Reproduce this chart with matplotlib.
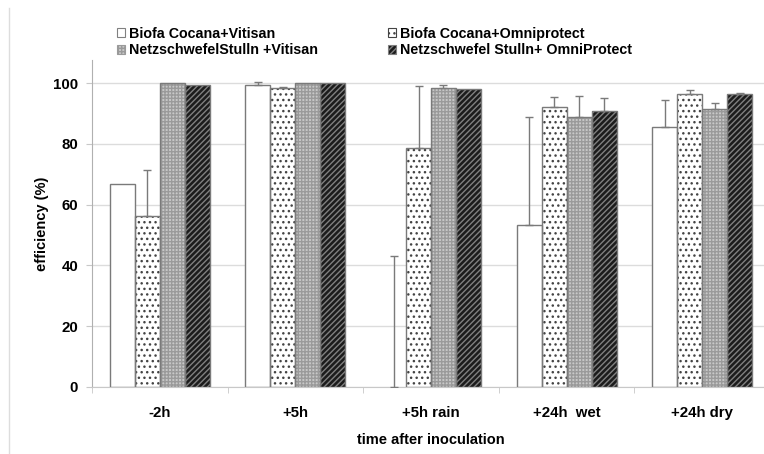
import matplotlib
matplotlib.use("Agg")
import matplotlib.pyplot as plt
from matplotlib.patches import Patch
from matplotlib.lines import Line2D
import numpy as np

categories = ["-2h", "+5h", "+5h rain", "+24h  wet", "+24h dry"]
series_names = ["Biofa Cocana+Vitisan", "Biofa Cocana+Omniprotect",
                "NetzschwefelStulln +Vitisan", "Netzschwefel Stulln+ OmniProtect"]
biofa_vitisan = [66.7, 99.5, 0.0, 53.4, 85.6]
biofa_vitisan_err = [0.0, 0.7, 43.2, 35.5, 8.8]
biofa_omni = [56.3, 98.4, 78.8, 92.2, 96.4]
biofa_omni_err = [15.1, 0.3, 20.2, 3.3, 1.3]
netz_vitisan = [100.0, 100.0, 98.3, 88.9, 91.4]
netz_vitisan_err = [0.0, 0.0, 1.0, 6.8, 2.2]
netz_omni = [99.5, 100.0, 98.0, 90.9, 96.4]
netz_omni_err = [0.0, 0.0, 0.0, 4.1, 0.2]

plt.rcParams['font.family'] = ['Liberation Sans', 'DejaVu Sans']
plt.rcParams['font.weight'] = 'bold'
plt.rcParams['hatch.linewidth'] = 1.0

fig = plt.figure(figsize=(7.64, 4.54), dpi=100)
W, H = 764, 454
ax = fig.add_axes([92 / W, 67 / H, (770 - 92) / W, (387 - 60) / H])

values = [biofa_vitisan, biofa_omni, netz_vitisan, netz_omni]
errs = [biofa_vitisan_err, biofa_omni_err, netz_vitisan_err, netz_omni_err]
styles = [
    dict(facecolor='white', hatch=None, hcolor='#808080'),
    dict(facecolor='white', hatch='...', hcolor='#444444'),
    dict(facecolor='#c8c8c8', hatch='+++++', hcolor='#9a9a9a'),
    dict(facecolor='#1c1c1c', hatch='//////', hcolor='#808080'),
]
x = np.arange(len(categories))
bw = 0.184
for i, (v, e, st) in enumerate(zip(values, errs, styles)):
    v = np.array(v)
    e = np.array(e)
    pos = x + (i - 1.5) * bw
    m = v > 0
    ax.bar(pos[m], v[m], bw, facecolor=st['facecolor'], hatch=st['hatch'],
           edgecolor=st['hcolor'], linewidth=0, zorder=2)
    ax.bar(pos[m], v[m], bw, fill=False, edgecolor='#7a7a7a', linewidth=1.0, zorder=3)
    me = e > 0
    ax.errorbar(pos[me], v[me], yerr=[np.zeros(me.sum()), e[me]], fmt='none',
                ecolor='#7a7a7a', elinewidth=1.0, capsize=3, capthick=1.0, zorder=4)

ax.set_xlim(-0.5, 4.5)
ax.set_ylim(0, 107.6)
ax.set_yticks([0, 20, 40, 60, 80, 100])
ax.yaxis.grid(True, color='#dcdcdc', linewidth=1.0)
ax.set_axisbelow(True)
ax.set_xticks(x)
ax.set_xticklabels(categories, fontsize=10.8, fontweight='bold')
ax.set_xticks(np.arange(-0.5, 5.0, 1.0), minor=True)
ax.tick_params(axis='x', which='major', length=0, pad=14)
ax.tick_params(axis='x', which='minor', length=4, color='#c8c8c8', direction='out')
ax.tick_params(axis='y', length=4, color='#c8c8c8', labelsize=10.8, pad=6)
for lab in ax.get_yticklabels():
    lab.set_fontweight('bold')
for s in ['top', 'right']:
    ax.spines[s].set_visible(False)
ax.spines['left'].set_color('#b0b0b0')
ax.spines['bottom'].set_color('#c8c8c8')

ax.set_ylabel('efficiency (%)', fontsize=10.5, fontweight='bold', labelpad=3)
ax.set_xlabel('time after inoculation', fontsize=10.5, fontweight='bold', labelpad=9)

handles = []
for st, name in zip(styles, series_names):
    handles.append(Patch(facecolor=st['facecolor'], hatch=st['hatch'],
                         edgecolor=st['hcolor'] if st['hatch'] else '#808080',
                         linewidth=0.8, label=name))
order = [0, 2, 1, 3]
leg = fig.legend([handles[i] for i in order], [series_names[i] for i in order],
                 ncol=2, loc='upper left', bbox_to_anchor=(117 / W, 1 - 27 / H),
                 frameon=False, fontsize=10.3, handlelength=0.55, handleheight=0.6,
                 handletextpad=0.3, columnspacing=4.9, labelspacing=0.15,
                 borderaxespad=0, borderpad=0)
for t in leg.get_texts():
    t.set_fontweight('bold')

fig.add_artist(Line2D([9 / W, 9 / W], [0, 1 - 8 / H], color='#dddddd', linewidth=1.0))

fig.savefig('out.png', dpi=100)
